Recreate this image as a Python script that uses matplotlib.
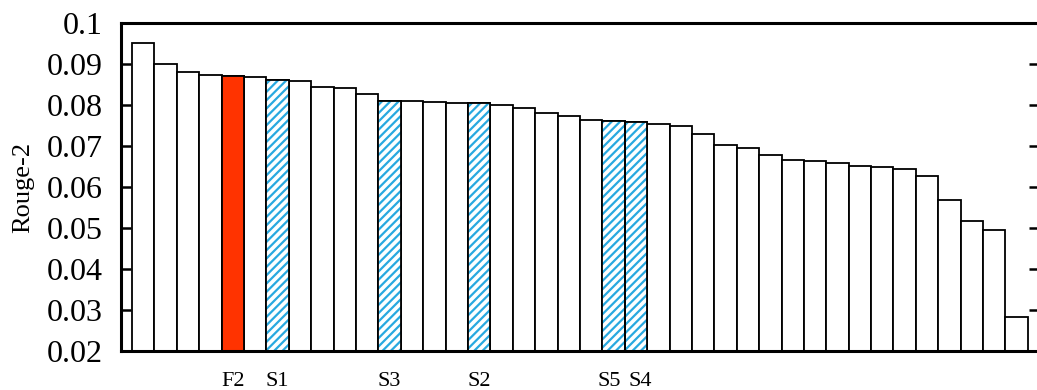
import numpy as np
import matplotlib
matplotlib.use("Agg")
import matplotlib.pyplot as plt
import matplotlib.transforms as mtransforms

plt.rcParams['font.family'] = ['Liberation Serif', 'DejaVu Serif']
plt.rcParams['hatch.linewidth'] = 1.6

# Rouge-2 scores, sorted descending
scores = [0.0951, 0.0900, 0.0880, 0.0872, 0.0870, 0.0868, 0.0862, 0.0859, 0.0845, 0.0841,
          0.0826, 0.0809, 0.0810, 0.0808, 0.0806, 0.0804, 0.0799, 0.0793, 0.0780, 0.0774,
          0.0764, 0.0762, 0.0758, 0.0754, 0.0748, 0.0730, 0.0703, 0.0696, 0.0679, 0.0667,
          0.0663, 0.0659, 0.0652, 0.0650, 0.0645, 0.0627, 0.0568, 0.0517, 0.0495, 0.0284]
# labelled systems: name -> index in the sorted list
named = {"F2": 4, "S1": 6, "S3": 11, "S2": 15, "S5": 21, "S4": 22}
red_sys = ["F2"]
blue_sys = ["S1", "S3", "S2", "S5", "S4"]

yticks = [0.02, 0.03, 0.04, 0.05, 0.06, 0.07, 0.08, 0.09, 0.1]
ytick_labels = ["0.02", "0.03", "0.04", "0.05", "0.06", "0.07", "0.08", "0.09", "0.1"]

x = np.arange(1, len(scores) + 1)
base = 0.02

fig = plt.figure(figsize=(10.37, 3.9), dpi=100)
ax = fig.add_axes([0.1165, 0.1, 0.8855, 0.841])

heights = np.array(scores) - base
ax.bar(x, heights, bottom=base, width=1.0, color="white", edgecolor="black", linewidth=1.3, zorder=2)

for name in blue_sys:
    i = named[name]
    ax.bar(x[i], heights[i], bottom=base, width=1.0, color="white", edgecolor="#29a9e0",
           hatch="////", linewidth=0, zorder=3)
    ax.bar(x[i], heights[i], bottom=base, width=1.0, color="none", edgecolor="black",
           linewidth=1.3, zorder=4)
for name in red_sys:
    i = named[name]
    ax.bar(x[i], heights[i], bottom=base, width=1.0, color="#ff3300", edgecolor="black",
           linewidth=1.3, zorder=4)

ax.set_xlim(0, 41)
ax.set_ylim(0.02, 0.1)
ax.set_yticks(yticks)
ax.set_yticklabels(ytick_labels)
ax.set_xticks([x[named[n]] for n in named])
ax.set_xticklabels(list(named.keys()))

ax.tick_params(axis='y', direction='in', length=7, width=1.8, pad=13, labelsize=23,
               right=True, left=True)
ax.tick_params(axis='x', length=0, pad=15, labelsize=16)
ax.set_ylabel("Rouge-2", fontsize=19, labelpad=9)

# the two neighbouring labels are pushed apart a little
for lab in ax.get_xticklabels():
    if lab.get_text() == "S5":
        lab.set_transform(lab.get_transform() + mtransforms.ScaledTranslation(-4.5 / 100, 0, fig.dpi_scale_trans))
    elif lab.get_text() == "S4":
        lab.set_transform(lab.get_transform() + mtransforms.ScaledTranslation(4.5 / 100, 0, fig.dpi_scale_trans))

for s in ax.spines.values():
    s.set_linewidth(2.2)
    s.set_zorder(5)

fig.savefig("out.png", dpi=100)
